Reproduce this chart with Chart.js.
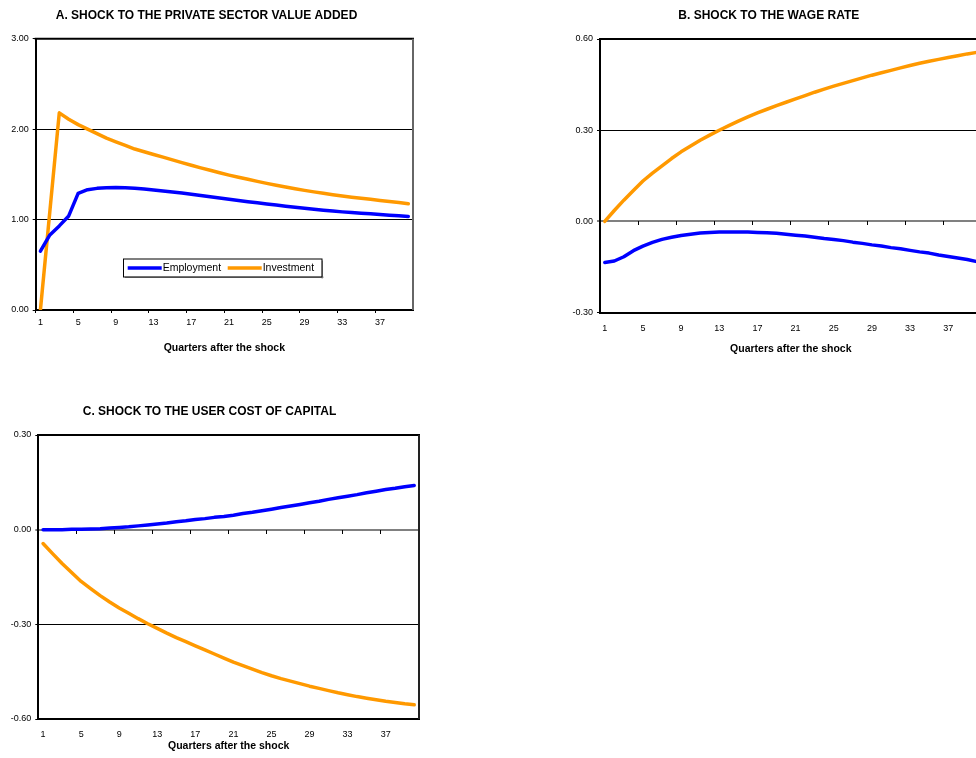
<!DOCTYPE html>
<html><head><meta charset="utf-8">
<script src="https://cdn.jsdelivr.net/npm/chart.js@4.4.1/dist/chart.umd.min.js"></script>
<style>
html,body{margin:0;padding:0;width:976px;height:758px;overflow:hidden;background:#fff;}
canvas{position:absolute;}
</style></head><body>
<canvas id="cA" width="426" height="362" style="left:0;top:0"></canvas>
<canvas id="cB" width="440" height="362" style="left:556px;top:0"></canvas>
<canvas id="cC" width="428" height="368" style="left:0;top:390px"></canvas>
<script>
// ---------- data ----------
const quarters = ['1','2','3','4','5','6','7','8','9','10','11','12','13','14','15','16','17','18','19','20',
                  '21','22','23','24','25','26','27','28','29','30','31','32','33','34','35','36','37','38','39','40'];
const shownXLabels = ['1','5','9','13','17','21','25','29','33','37'];
const seriesNames = ['Employment', 'Investment'];
const xTitle = 'Quarters after the shock';

const titleA = 'A. SHOCK TO THE PRIVATE SECTOR VALUE ADDED';
const titleB = 'B. SHOCK TO THE WAGE RATE';
const titleC = 'C. SHOCK TO THE USER COST OF CAPITAL';

const yTicksA = [0, 1, 2, 3];
const yTicksB = [-0.3, 0, 0.3, 0.6];
const yTicksC = [-0.6, -0.3, 0, 0.3];

const employmentA = [0.65, 0.83, 0.93, 1.04, 1.29, 1.33, 1.345, 1.352, 1.354, 1.352,
                     1.347, 1.339, 1.328, 1.317, 1.305, 1.293, 1.28, 1.266, 1.252, 1.239,
                     1.225, 1.212, 1.198, 1.185, 1.172, 1.16, 1.148, 1.136, 1.124, 1.114,
                     1.104, 1.094, 1.085, 1.077, 1.07, 1.063, 1.056, 1.049, 1.042, 1.035];
const investmentA = [0.0, 1.09, 2.18, 2.11, 2.05, 2.0, 1.95, 1.9, 1.86, 1.82,
                     1.78, 1.75, 1.72, 1.69, 1.66, 1.63, 1.6, 1.572, 1.545, 1.518,
                     1.492, 1.468, 1.445, 1.422, 1.4, 1.38, 1.36, 1.341, 1.323, 1.306,
                     1.29, 1.275, 1.261, 1.248, 1.236, 1.224, 1.212, 1.2, 1.189, 1.175];

const employmentB = [-0.135, -0.13, -0.116, -0.096, -0.081, -0.069, -0.059, -0.052, -0.046, -0.042,
                     -0.038, -0.036, -0.035, -0.0345, -0.0345, -0.035, -0.036, -0.037, -0.039, -0.042,
                     -0.045, -0.048, -0.052, -0.056, -0.059, -0.063, -0.068, -0.072, -0.077, -0.081,
                     -0.086, -0.09, -0.095, -0.1, -0.104, -0.11, -0.115, -0.12, -0.125, -0.132];
const investmentB = [0.0, 0.036, 0.07, 0.102, 0.133, 0.159, 0.183, 0.207, 0.229, 0.248,
                     0.267, 0.284, 0.3, 0.315, 0.33, 0.344, 0.357, 0.369, 0.381, 0.392,
                     0.403, 0.414, 0.425, 0.435, 0.445, 0.454, 0.463, 0.472, 0.481, 0.489,
                     0.497, 0.505, 0.513, 0.52, 0.527, 0.533, 0.539, 0.545, 0.551, 0.556];

const employmentC = [0.0, 0.0, 0.0, 0.001, 0.001, 0.002, 0.003, 0.005, 0.007, 0.009,
                     0.012, 0.015, 0.018, 0.021, 0.025, 0.028, 0.032, 0.035, 0.039, 0.042,
                     0.046, 0.051, 0.055, 0.06, 0.065, 0.07, 0.075, 0.08, 0.085, 0.09,
                     0.096, 0.101, 0.106, 0.111, 0.117, 0.122, 0.127, 0.131, 0.136, 0.14];
const investmentC = [-0.044, -0.076, -0.107, -0.136, -0.164, -0.187, -0.209, -0.229, -0.248, -0.265,
                     -0.282, -0.298, -0.313, -0.328, -0.342, -0.355, -0.368, -0.381, -0.394, -0.407,
                     -0.42, -0.431, -0.442, -0.453, -0.463, -0.472, -0.48, -0.488, -0.496, -0.503,
                     -0.51, -0.517, -0.523, -0.529, -0.534, -0.539, -0.544, -0.548, -0.552, -0.555];

// ---------- styling / rendering ----------
const FONT = "Arial, 'Liberation Sans', Helvetica, sans-serif";
const BLUE = '#0000FF';
const ORANGE = '#FF9900';

const framePlugin = {
  id: 'frame',
  beforeDatasetsDraw(chart, args, opts) {
    const {ctx, chartArea: {left, top, right, bottom}} = chart;
    ctx.save();
    ctx.lineWidth = 2;
    ctx.strokeStyle = '#000';
    ctx.beginPath(); ctx.moveTo(left - 1, top); ctx.lineTo(right + 1, top); ctx.stroke();
    ctx.strokeStyle = opts.rightColor || '#555';
    ctx.beginPath(); ctx.moveTo(right, top); ctx.lineTo(right, bottom); ctx.stroke();
    ctx.restore();
  }
};

const boxLegendPlugin = {
  id: 'boxLegend',
  afterDatasetsDraw(chart, args, opts) {
    if (!opts.show) return;
    const {ctx} = chart;
    const x = opts.x, y = opts.y, w = opts.w, h = opts.h;
    ctx.save();
    ctx.fillStyle = '#9a9a9a';
    ctx.fillRect(x + 2, y + h, w, 1.5);
    ctx.fillRect(x + w, y + 2, 1.5, h);
    ctx.fillStyle = '#fff';
    ctx.fillRect(x, y, w, h);
    ctx.strokeStyle = '#000';
    ctx.lineWidth = 1;
    ctx.strokeRect(x + 0.5, y + 0.5, w, h);
    ctx.font = '10.5px ' + FONT;
    ctx.textBaseline = 'middle';
    ctx.textAlign = 'left';
    const cy = y + h / 2 + 0.5;
    chart.data.datasets.forEach((ds, i) => {
      const sx = x + opts.items[i];
      ctx.strokeStyle = ds.borderColor;
      ctx.lineWidth = 3.5;
      ctx.lineCap = 'butt';
      ctx.beginPath(); ctx.moveTo(sx, cy); ctx.lineTo(sx + 34, cy); ctx.stroke();
      ctx.fillStyle = '#000';
      ctx.fillText(ds.label, sx + 35, cy + 0.5);
    });
    ctx.restore();
  }
};

function xTickColor(c) {
  return (c.index !== undefined && c.index % 4 === 0) ? '#000' : 'rgba(0,0,0,0)';
}

function makeChart(id, cfg) {
  const zeroCross = cfg.zeroCross;
  const scales = {
    x: {
      type: 'category', position: 'bottom', offset: true,
      grid: { display: !zeroCross, drawOnChartArea: false, drawTicks: true, tickLength: 3, offset: true,
              tickColor: xTickColor, tickWidth: 1 },
      border: { display: true, color: '#000', width: 2 },
      ticks: { autoSkip: false, maxRotation: 0, minRotation: 0, padding: cfg.xLabelPad, color: '#000',
               font: { family: FONT, size: 9 },
               callback: function (v) { const l = this.getLabelForValue(v); return shownXLabels.includes(l) ? l : ''; } },
      title: { display: true, text: xTitle, color: '#000', font: { family: FONT, size: 10.5, weight: 'bold' },
               padding: { top: 0, bottom: cfg.xTitlePad } },
      afterFit: s => { s.height = cfg.xAxisH; }
    },
    y: {
      type: 'linear', position: 'left',
      min: cfg.yTicks[0], max: cfg.yTicks[cfg.yTicks.length - 1],
      afterBuildTicks: s => { s.ticks = cfg.yTicks.map(v => ({ value: v })); },
      grid: {
        color: c => (zeroCross && c.tick && c.tick.value === 0) ? '#808080' : '#000',
        lineWidth: c => (zeroCross && c.tick && c.tick.value === 0) ? 2 : 1,
        drawTicks: true, tickLength: 3, tickColor: '#000', tickWidth: 1
      },
      border: { display: true, color: '#000', width: 2 },
      ticks: { padding: 4, color: '#000', font: { family: FONT, size: 9 }, callback: v => Number(v).toFixed(2) },
      afterFit: s => { s.width = cfg.yAxisW; }
    }
  };
  if (zeroCross) {
    scales.x2 = {
      type: 'category', position: { y: 0 }, offset: true,
      grid: { drawOnChartArea: false, drawTicks: true, tickLength: 4, offset: true, tickColor: xTickColor, tickWidth: 1 },
      border: { display: false },
      ticks: { display: false, autoSkip: false, maxRotation: 0, minRotation: 0 }
    };
  }
  return new Chart(document.getElementById(id), {
    type: 'line',
    data: {
      labels: quarters,
      datasets: [
        { label: seriesNames[0], data: cfg.emp, borderColor: BLUE, backgroundColor: BLUE, xAxisID: 'x', yAxisID: 'y' },
        { label: seriesNames[1], data: cfg.inv, borderColor: ORANGE, backgroundColor: ORANGE, xAxisID: 'x', yAxisID: 'y' }
      ]
    },
    options: {
      responsive: false, animation: false, events: [],
      layout: { padding: { left: 0, right: cfg.padRight, top: 0, bottom: 0 } },
      elements: {
        line: { borderWidth: 3.5, tension: 0, borderCapStyle: 'round', borderJoinStyle: 'round', fill: false },
        point: { radius: 0, hoverRadius: 0 }
      },
      scales,
      plugins: {
        legend: { display: false },
        tooltip: { enabled: false },
        title: { display: true, text: cfg.title, color: '#000', font: { family: FONT, size: 12, weight: 'bold' },
                 padding: { top: cfg.titleTop, bottom: cfg.titleBottom } },
        frame: { rightColor: cfg.rightColor },
        boxLegend: cfg.legend || { show: false }
      }
    },
    plugins: [framePlugin, boxLegendPlugin]
  });
}

makeChart('cA', {
  title: titleA, emp: employmentA, inv: investmentA, yTicks: yTicksA, zeroCross: false,
  yAxisW: 35.7, padRight: 13, titleTop: 8, titleBottom: 16.3, xAxisH: 52, xLabelPad: 4.3, xTitlePad: 7.7,
  rightColor: '#666',
  legend: { show: true, x: 123, y: 258.5, w: 198.5, h: 18, items: [4.7, 104.7] }
});
makeChart('cB', {
  title: titleB, emp: employmentB, inv: investmentB, yTicks: yTicksB, zeroCross: true,
  yAxisW: 44, padRight: 14.4, titleTop: 8, titleBottom: 16.6, xAxisH: 49.3, xLabelPad: 7.9, xTitlePad: 6.4,
  rightColor: '#333'
});
makeChart('cC', {
  title: titleC, emp: employmentC, inv: investmentC, yTicks: yTicksC, zeroCross: true,
  yAxisW: 38.3, padRight: 9, titleTop: 14.5, titleBottom: 16.1, xAxisH: 39, xLabelPad: 7.3, xTitlePad: 5.7,
  rightColor: '#222'
});
</script>
</body></html>
